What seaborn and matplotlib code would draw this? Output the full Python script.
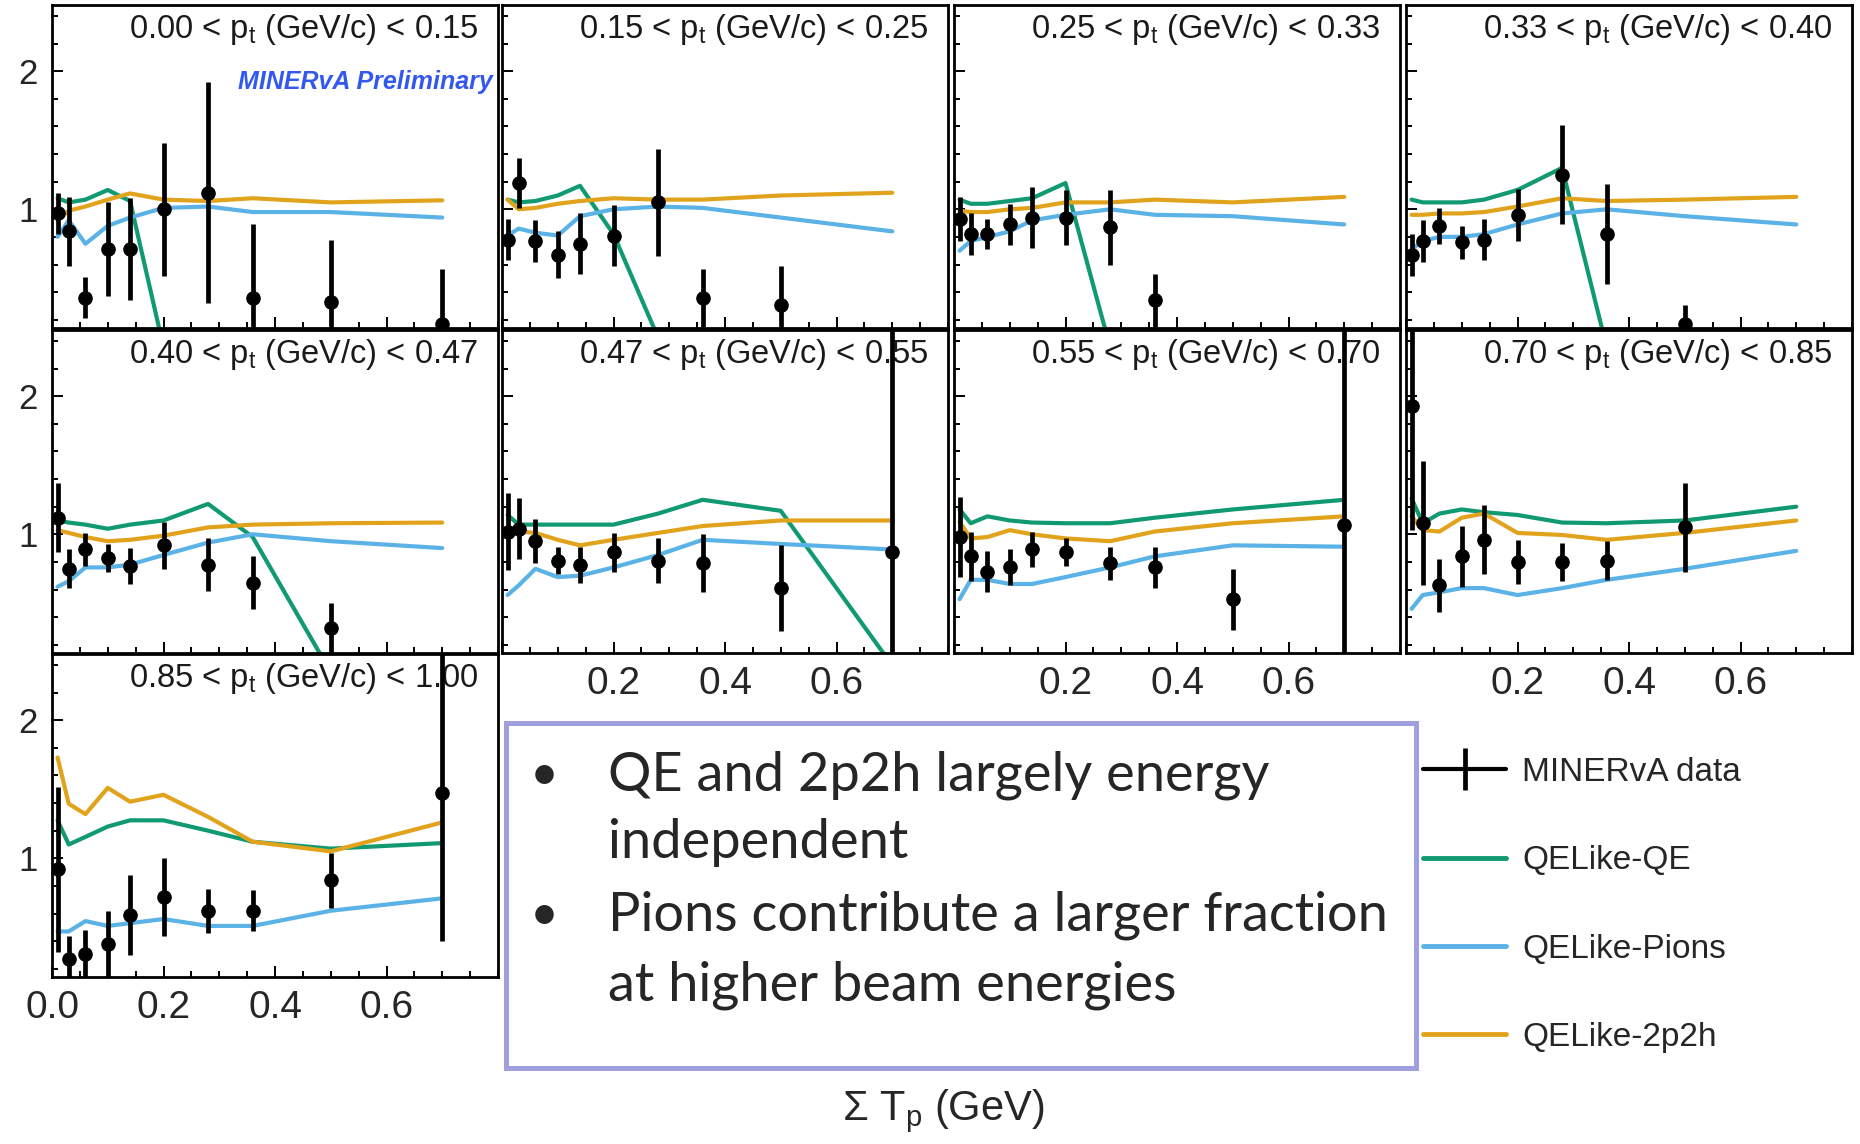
import numpy as np
import pandas as pd
import matplotlib
matplotlib.use("Agg")
import matplotlib.pyplot as plt
from matplotlib.lines import Line2D
from matplotlib.patches import Rectangle
from matplotlib.ticker import FixedLocator, MultipleLocator, FixedFormatter
import seaborn as sns

nan = float("nan")

# transverse-momentum bin edges (GeV/c), one panel per bin
pt_edges = ["0.00", "0.15", "0.25", "0.33", "0.40", "0.47", "0.55", "0.70", "0.85", "1.00"]
# sum of proton kinetic energies, bin centres (GeV)
sum_tp = [0.01, 0.03, 0.06, 0.10, 0.14, 0.20, 0.28, 0.36, 0.50, 0.70]

data_ratio = [
    [0.97, 0.84, 0.36, 0.71, 0.71, 1.00, 1.12, 0.36, 0.33, 0.17],
    [0.78, 1.19, 0.77, 0.67, 0.75, 0.81, 1.05, 0.36, 0.31, nan],
    [0.93, 0.82, 0.82, 0.89, 0.94, 0.94, 0.87, 0.34, nan, nan],
    [0.67, 0.77, 0.88, 0.76, 0.78, 0.96, 1.25, 0.82, 0.17, nan],
    [1.12, 0.75, 0.89, 0.83, 0.77, 0.92, 0.78, 0.65, 0.32, nan],
    [1.02, 1.04, 0.95, 0.81, 0.78, 0.87, 0.81, 0.79, 0.61, 0.87],
    [0.98, 0.84, 0.73, 0.76, 0.89, 0.87, 0.79, 0.76, 0.53, 1.07],
    [1.93, 1.08, 0.63, 0.84, 0.96, 0.80, 0.80, 0.81, 1.05, nan],
    [0.92, 0.27, 0.31, 0.38, 0.59, 0.72, 0.62, 0.62, 0.84, 1.47],
]
data_err = [
    [0.15, 0.25, 0.15, 0.34, 0.37, 0.48, 0.80, 0.53, 0.45, 0.40],
    [0.15, 0.18, 0.15, 0.17, 0.22, 0.22, 0.39, 0.21, 0.28, nan],
    [0.16, 0.15, 0.11, 0.15, 0.22, 0.20, 0.27, 0.19, nan, nan],
    [0.15, 0.15, 0.13, 0.12, 0.15, 0.19, 0.36, 0.36, 0.14, nan],
    [0.25, 0.14, 0.12, 0.10, 0.13, 0.17, 0.19, 0.19, 0.18, nan],
    [0.28, 0.22, 0.16, 0.10, 0.13, 0.14, 0.16, 0.21, 0.31, 1.80],
    [0.29, 0.18, 0.15, 0.13, 0.13, 0.10, 0.12, 0.15, 0.22, 1.60],
    [0.90, 0.45, 0.19, 0.22, 0.25, 0.16, 0.14, 0.14, 0.32, nan],
    [0.60, 0.17, 0.17, 0.24, 0.29, 0.28, 0.16, 0.15, 0.20, 1.07],
]
qe_ratio = [
    [1.08, 1.05, 1.07, 1.14, 1.06, 0.00, 0.00, 0.00, 0.00, 0.00],
    [1.07, 1.05, 1.06, 1.10, 1.17, 0.82, 0.07, 0.00, 0.00, 0.00],
    [1.07, 1.04, 1.04, 1.06, 1.08, 1.19, 0.00, 0.00, 0.00, 0.00],
    [1.07, 1.05, 1.05, 1.05, 1.07, 1.14, 1.30, 0.00, 0.00, 0.00],
    [1.10, 1.085, 1.07, 1.04, 1.07, 1.10, 1.22, 0.98, 0.00, 0.00],
    [1.14, 1.07, 1.07, 1.07, 1.07, 1.07, 1.15, 1.25, 1.17, 0.05],
    [1.18, 1.08, 1.13, 1.10, 1.085, 1.08, 1.08, 1.12, 1.18, 1.25],
    [1.26, 1.08, 1.15, 1.18, 1.16, 1.14, 1.085, 1.08, 1.10, 1.20],
    [1.275, 1.10, 1.155, 1.23, 1.275, 1.275, 1.20, 1.12, 1.07, 1.11],
]
pion_ratio = [
    [0.80, 0.92, 0.75, 0.88, 0.94, 1.01, 1.02, 0.98, 0.98, 0.94],
    [0.81, 0.86, 0.83, 0.81, 0.95, 1.00, 1.02, 1.01, 0.94, 0.84],
    [0.70, 0.77, 0.80, 0.84, 0.92, 0.96, 1.00, 0.96, 0.95, 0.89],
    [0.71, 0.77, 0.80, 0.80, 0.82, 0.89, 0.97, 1.00, 0.95, 0.89],
    [0.62, 0.66, 0.76, 0.76, 0.78, 0.85, 0.94, 1.00, 0.95, 0.90],
    [0.56, 0.63, 0.75, 0.69, 0.70, 0.76, 0.85, 0.96, 0.93, 0.89],
    [0.53, 0.67, 0.67, 0.64, 0.64, 0.69, 0.76, 0.84, 0.92, 0.91],
    [0.46, 0.56, 0.58, 0.61, 0.61, 0.56, 0.61, 0.67, 0.75, 0.88],
    [0.47, 0.47, 0.545, 0.51, 0.53, 0.56, 0.51, 0.51, 0.62, 0.71],
]
mec_ratio = [
    [0.92, 0.99, 1.02, 1.07, 1.115, 1.07, 1.06, 1.08, 1.05, 1.065],
    [1.07, 1.00, 1.01, 1.04, 1.06, 1.08, 1.07, 1.07, 1.10, 1.12],
    [0.99, 0.98, 0.98, 1.00, 1.01, 1.05, 1.05, 1.07, 1.05, 1.09],
    [0.96, 0.96, 0.97, 0.97, 0.98, 1.02, 1.08, 1.06, 1.07, 1.09],
    [1.03, 1.01, 0.98, 0.95, 0.96, 0.99, 1.05, 1.07, 1.08, 1.085],
    [1.03, 1.02, 1.01, 0.96, 0.92, 0.96, 1.01, 1.06, 1.10, 1.10],
    [1.09, 0.97, 0.98, 1.03, 1.00, 0.97, 0.95, 1.02, 1.08, 1.13],
    [1.13, 1.03, 1.02, 1.12, 1.15, 1.01, 0.995, 0.96, 1.01, 1.10],
    [1.73, 1.395, 1.32, 1.51, 1.41, 1.46, 1.30, 1.12, 1.05, 1.26],
]

models = ["QELike-QE", "QELike-Pions", "QELike-2p2h"]
palette = {"QELike-QE": "#119a72", "QELike-Pions": "#5ab2e6", "QELike-2p2h": "#e2a31c"}

sns.set_style("ticks")
plt.rcParams.update({
    "font.family": ["Liberation Sans", "DejaVu Sans"],
    "mathtext.fontset": "custom",
    "mathtext.rm": "Liberation Sans",
    "mathtext.it": "Liberation Sans:italic",
    "mathtext.bf": "Liberation Sans:bold",
})

W, H = 1860, 1144
fig = plt.figure(figsize=(W / 100, H / 100), dpi=100)
fig.patch.set_facecolor("white")

# panel grid in pixels
col_left = [52, 502, 954, 1406]
row_top = [5, 330, 654]
pw, ph = 446, 323

for i in range(9):
    r, c = divmod(i, 4)
    ax = fig.add_axes([col_left[c] / W, 1 - (row_top[r] + ph) / H, pw / W, ph / H])
    ax.set_facecolor("white")

    df = pd.DataFrame({
        "tp": sum_tp * 3,
        "ratio": qe_ratio[i] + pion_ratio[i] + mec_ratio[i],
        "model": np.repeat(models, len(sum_tp)),
    })
    sns.lineplot(data=df, x="tp", y="ratio", hue="model", hue_order=models,
                 palette=palette, estimator=None, sort=False, lw=3.0,
                 legend=False, ax=ax, zorder=2)
    ax.errorbar(sum_tp, data_ratio[i], yerr=data_err[i], fmt="o", color="black",
                ms=9.5, elinewidth=3.4, capsize=0, zorder=4)

    ax.set_xlim(0, 0.8)
    ax.set_ylim(0.14, 2.48)
    ax.set_xlabel("")
    ax.set_ylabel("")

    ax.xaxis.set_major_locator(FixedLocator([0.0, 0.2, 0.4, 0.6]))
    ax.xaxis.set_minor_locator(MultipleLocator(0.05))
    ax.yaxis.set_major_locator(FixedLocator([1, 2]))
    ax.yaxis.set_minor_locator(MultipleLocator(0.2))
    ax.tick_params(which="both", direction="in", top=False, right=False,
                   width=1.4, color="black")
    ax.tick_params(which="major", length=8)
    ax.tick_params(which="minor", length=4.5)
    ax.tick_params(axis="x", labelsize=28, pad=9)
    ax.tick_params(axis="y", labelsize=25, pad=10)

    if i == 8:
        ax.xaxis.set_major_formatter(FixedFormatter(["0.0", "0.2", "0.4", "0.6"]))
    elif i in (5, 6, 7):
        ax.xaxis.set_major_formatter(FixedFormatter(["", "0.2", "0.4", "0.6"]))
    else:
        ax.tick_params(axis="x", labelbottom=False)
    if c == 0:
        ax.yaxis.set_major_formatter(FixedFormatter(["1", "2"]))
    else:
        ax.tick_params(axis="y", labelleft=False)

    for s in ax.spines.values():
        s.set_linewidth(2.0)
        s.set_color("black")
        s.set_visible(True)

    ax.text(0.955, 0.898,
            f"{pt_edges[i]} < p$_\\mathregular{{t}}$ (GeV/c) < {pt_edges[i + 1]}",
            transform=ax.transAxes, ha="right", va="baseline",
            fontsize=23.5, color="#1a1a1a", zorder=1)
    if i == 0:
        ax.text(0.417, 0.762, "MINERvA Preliminary", transform=ax.transAxes,
                ha="left", va="center", fontsize=18, fontweight="bold",
                fontstyle="italic", color="#3358f0", clip_on=True, zorder=1)

# summary box
fig.patches.append(Rectangle((506 / W, 1 - 1068 / H), 910 / W, 345 / H,
                             transform=fig.transFigure, fill=False,
                             edgecolor="#a0a0e0", linewidth=3.6))
bullet_lines = [
    (790, True, "QE and 2p2h largely energy"),
    (858, False, "independent"),
    (930, True, "Pions contribute a larger fraction"),
    (1000, False, "at higher beam energies"),
]
for base_y, has_bullet, txt in bullet_lines:
    if has_bullet:
        fig.text(530 / W, 1 - base_y / H, "\u2022", fontsize=36,
                 family=["Lato", "DejaVu Sans"], va="baseline", ha="left")
    fig.text(608 / W, 1 - base_y / H, txt, fontsize=39,
             family=["Lato", "DejaVu Sans"], va="baseline", ha="left")

# legend
handles = [
    Line2D([], [], color="black", lw=3, marker="|", markersize=30, markeredgewidth=3.4),
    Line2D([], [], color=palette["QELike-QE"], lw=3.5),
    Line2D([], [], color=palette["QELike-Pions"], lw=3.5),
    Line2D([], [], color=palette["QELike-2p2h"], lw=3.5),
]
labels = ["MINERvA data"] + models
fig.legend(handles, labels, loc="upper left", bbox_to_anchor=(1423 / W, 1 - 757 / H),
           frameon=False, fontsize=24, handlelength=2.5, handletextpad=0.48,
           labelspacing=1.72, borderpad=0, borderaxespad=0, numpoints=1)

fig.text(943 / W, 1 - 1120 / H, "\u03a3 T$_\\mathregular{p}$ (GeV)", ha="center",
         va="baseline", fontsize=30)

fig.savefig("out.png", dpi=100, facecolor="white")
